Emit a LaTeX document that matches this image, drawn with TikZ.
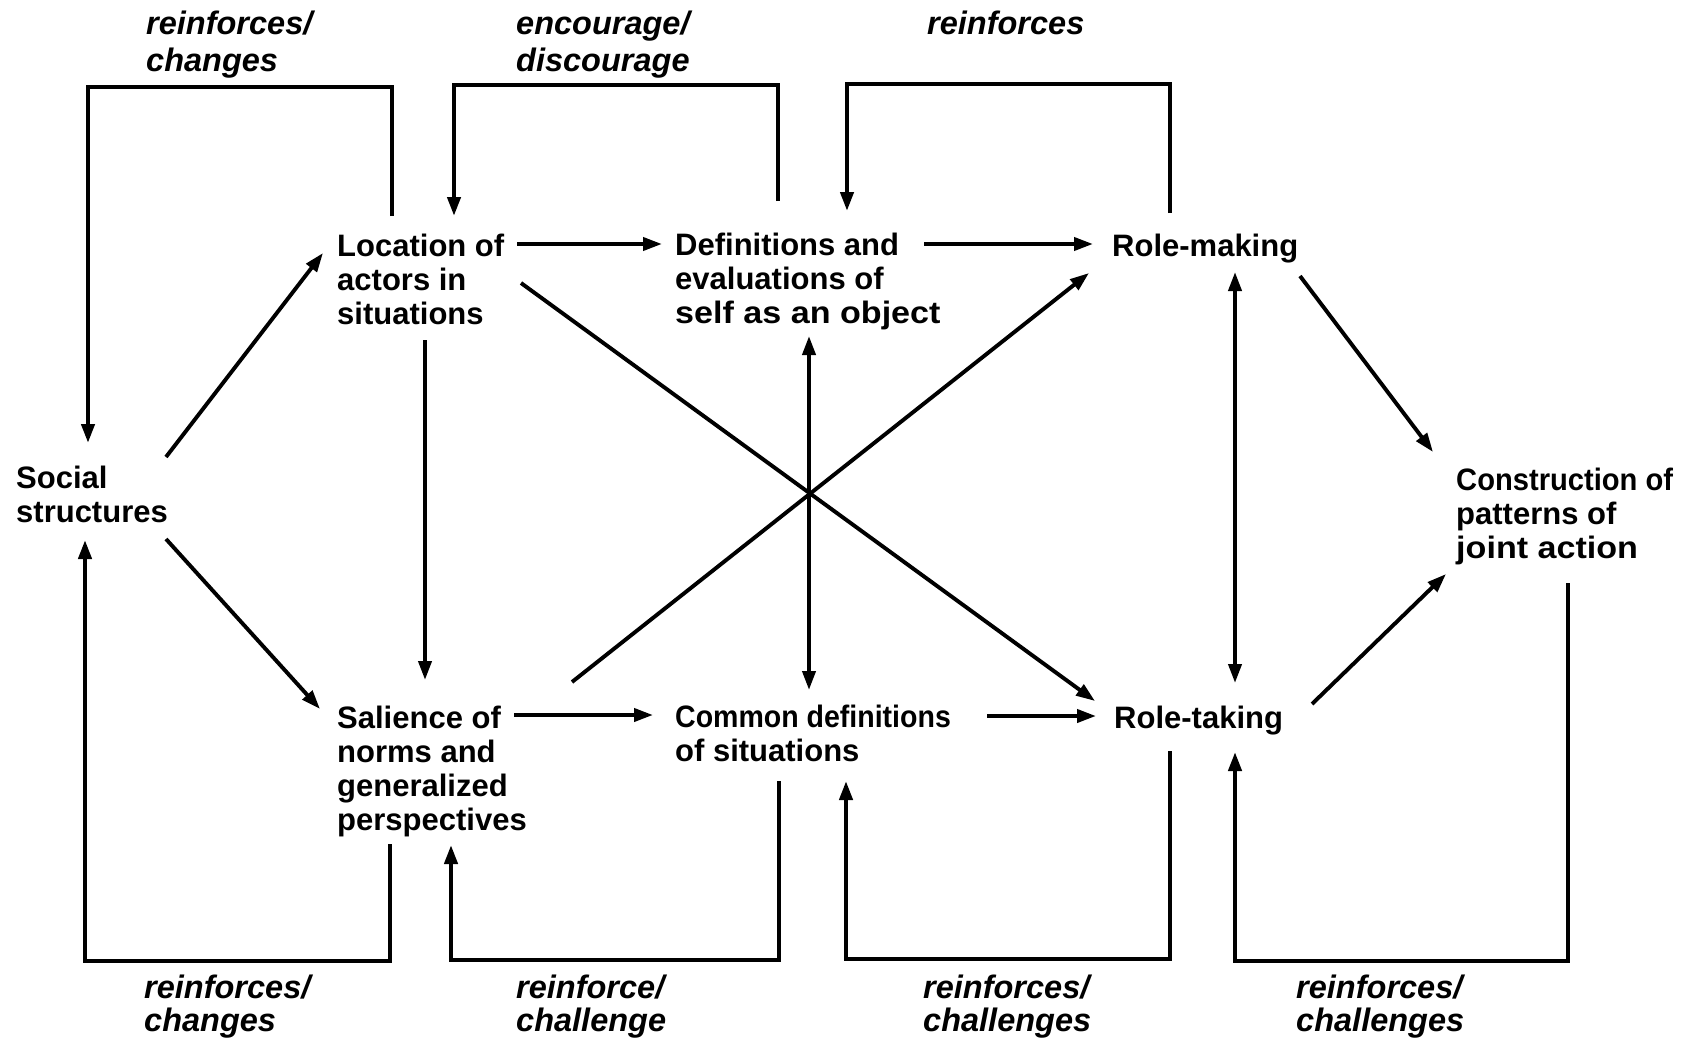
\documentclass[tikz,border=0pt]{standalone}
\usepackage{fontspec}
\usepackage{graphicx}
\setmainfont{Liberation Sans}
\usetikzlibrary{arrows.meta}
\newcommand{\mlines}[1]{\begin{tabular}[t]{@{}l@{}}#1\end{tabular}}
\newcommand{\sqx}[2]{\scalebox{#1}[1]{#2}}
\begin{document}
\begin{tikzpicture}[x=1pt,y=-1pt,
  concept/.style={anchor=base west, inner sep=0pt, font=\fontsize{31}{34}\selectfont\bfseries},
  lbl/.style={anchor=base west, inner sep=0pt, font=\fontsize{32.5}{32}\selectfont\bfseries\itshape},
  lbltop/.style={lbl, font=\fontsize{32.5}{37}\selectfont\bfseries\itshape},
  tip/.tip={Triangle[length=19pt,width=13pt]},
  conn/.style={line width=3.9pt, -tip},
  dconn/.style={line width=3.9pt, tip-tip},
  fb/.style={line width=4.2pt, line join=miter, -tip}]
\fill[white] (0,0) rectangle (1691,1038);
\useasboundingbox (0,0) rectangle (1691,1038);

% concept nodes
\node[concept] (soc) at (16,488) {\mlines{Social\\structures}};
\node[concept] (loc) at (337,256) {\mlines{Location of\\actors in\\situations}};
\node[concept] (def) at (675,255) {\mlines{Definitions and\\evaluations of\\\sqx{1.1}{self as an object}}};
\node[concept] (rmk) at (1112,256) {Role-making};
\node[concept] (con) at (1456,490) {\mlines{\sqx{0.94}{Construction of}\\patterns of\\\sqx{1.1}{joint action}}};
\node[concept] (sal) at (337,728) {\mlines{Salience of\\norms and\\generalized\\perspectives}};
\node[concept] (com) at (675,727) {\mlines{\sqx{0.92}{Common definitions}\\of situations}};
\node[concept] (rtk) at (1114,728) {Role-taking};

% labels
\node[lbltop] (l1) at (146,35) {\mlines{reinforces/\\changes}};
\node[lbltop] (l2) at (516,35) {\mlines{encourage/\\discourage}};
\node[lbltop] (l3) at (927,35) {reinforces};
\node[lbl] (l4) at (144,998) {\mlines{reinforces/\\changes}};
\node[lbl] (l5) at (516,998) {\mlines{reinforce/\\challenge}};
\node[lbl] (l6) at (923,998) {\mlines{reinforces/\\challenges}};
\node[lbl] (l7) at (1296,998) {\mlines{reinforces/\\challenges}};

% connector end points
\coordinate (socA) at (166,457);   \coordinate (locA) at (323,253);
\coordinate (socB) at (166,539);   \coordinate (salA) at (320,709);
\coordinate (locB) at (517,244);   \coordinate (defA) at (662,244);
\coordinate (defB) at (924,244);   \coordinate (rmkA) at (1093,244);
\coordinate (locC) at (425,340);   \coordinate (salB) at (425,680);
\coordinate (locD) at (521,283);   \coordinate (rtkA) at (1095,701);
\coordinate (salC) at (572,682);   \coordinate (rmkB) at (1089,273);
\coordinate (defC) at (809,336);   \coordinate (comA) at (809,690);
\coordinate (salD) at (514,715);   \coordinate (comB) at (653,715);
\coordinate (comC) at (987,716);   \coordinate (rtkB) at (1096,716);
\coordinate (rmkC) at (1235,272);  \coordinate (rtkC) at (1235,683);
\coordinate (rmkD) at (1300,276);  \coordinate (conA) at (1433,452);
\coordinate (rtkD) at (1312,704);  \coordinate (conB) at (1446,574);

% feedback loop end points
\coordinate (a1) at (392,216);  \coordinate (a2) at (88,443);
\coordinate (b1) at (778,201);  \coordinate (b2) at (454,216);
\coordinate (c1) at (1170,213); \coordinate (c2) at (847,211);
\coordinate (d1) at (390,844);  \coordinate (d2) at (85,540);
\coordinate (e1) at (779,781);  \coordinate (e2) at (451,845);
\coordinate (g1) at (1170,751); \coordinate (g2) at (846,781);
\coordinate (h1) at (1568,583); \coordinate (h2) at (1235,752);

% main connectors
\draw[conn] (socA) -- (locA);
\draw[conn] (socB) -- (salA);
\draw[conn] (locB) -- (defA);
\draw[conn] (defB) -- (rmkA);
\draw[conn] (locC) -- (salB);
\draw[conn] (locD) -- (rtkA);
\draw[conn] (salC) -- (rmkB);
\draw[dconn] (defC) -- (comA);
\draw[conn] (salD) -- (comB);
\draw[conn] (comC) -- (rtkB);
\draw[dconn] (rmkC) -- (rtkC);
\draw[conn] (rmkD) -- (conA);
\draw[conn] (rtkD) -- (conB);

% feedback loops
\draw[fb] (a1) -- ++(0,-129) -| (a2);
\draw[fb] (b1) -- ++(0,-116) -| (b2);
\draw[fb] (c1) -- ++(0,-129) -| (c2);
\draw[fb] (d1) -- ++(0,117) -| (d2);
\draw[fb] (e1) -- ++(0,179) -| (e2);
\draw[fb] (g1) -- ++(0,208) -| (g2);
\draw[fb] (h1) -- ++(0,378) -| (h2);
\end{tikzpicture}
\end{document}
